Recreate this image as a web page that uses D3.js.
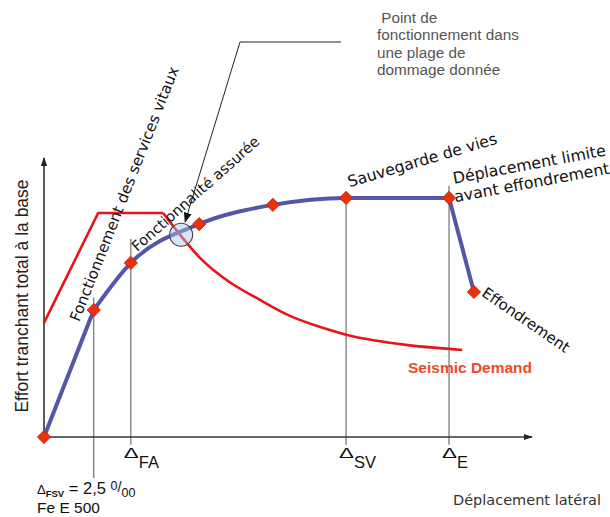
<!DOCTYPE html>
<html>
<head>
<meta charset="utf-8">
<script src="https://cdn.jsdelivr.net/npm/d3@7"></script>
<style>
  html, body { margin: 0; padding: 0; background: #fff; }
  svg { display: block; }
</style>
</head>
<body>
<svg id="chart" width="610" height="517"></svg>
<script>
// ---------- DATA ----------
// Capacity (pushover) curve, arbitrary units (0-100)
const capacityX = [0, 10.2, 17.8, 31.8, 46.9, 61.9, 83.0, 88.1];
const capacityY = [0, 45.5, 62.4, 76.3, 83.2, 85.7, 85.7, 52.0];
// Seismic demand curve (first three points: linear plateau part)
const demandX = [0, 11.1, 24.4, 28.1, 31.8, 37.7, 43.9, 50.4, 56.6, 62.1, 73.0, 85.7];
const demandY = [40.9, 80.3, 80.3, 72.0, 64.5, 55.9, 49.5, 43.4, 39.4, 36.6, 33.3, 31.2];
// Performance-level guide lines
const guideX = [10.2, 17.8, 61.9, 83.0];
const guideTop = [50, 71, 85.7, 90];
const guideBottom = [-14.7, -2.8, -2.8, -2.8];
const guideLabelMain = ["", "Δ", "Δ", "Δ"];
const guideLabelSub = ["", "FA", "SV", "E"];
// Level labels
const levelLabels = ["Fonctionnement des services vitaux", "Fonctionnalité assurée", "Sauvegarde de vies", "Déplacement limite|avant effondrement", "Effondrement"];
const levelLabelPointX = [7.2, 19.1, 62.6, 84.0, 89.5];
const levelLabelPointY = [41, 66.2, 89.5, 90.8, 50.8];
const levelLabelAngle = [-68.5, -41.5, -16.5, -10.5, 34.5];
// Performance point (intersection)
const perfX = [28.1];
const perfY = [72.5];
// Annotation
const noteLines = [" Point de", "fonctionnement dans", "une plage de", "dommage donnée"];
const axisTitleX = "Déplacement latéral";
const axisTitleY = "Effort tranchant total à la base";
const demandLabel = "Seismic Demand";

// ---------- STYLE ----------
const levelFont = [15.1, 14.6, 15.7, 15.8, 15];

// ---------- SETUP ----------
const svg = d3.select("#chart");
const x = d3.scaleLinear().domain([0, 100]).range([44, 532]);
const y = d3.scaleLinear().domain([0, 100]).range([437, 158]);

const defs = svg.append("defs");
defs.append("marker").attr("id", "arrAxis").attr("viewBox", "0 0 10 10")
  .attr("refX", 9).attr("refY", 5).attr("markerWidth", 9).attr("markerHeight", 9)
  .attr("markerUnits", "userSpaceOnUse").attr("orient", "auto")
  .append("path").attr("d", "M0,1.5 L10,5 L0,8.5 Z").attr("fill", "#222");
defs.append("marker").attr("id", "arrNote").attr("viewBox", "0 0 10 10")
  .attr("refX", 9).attr("refY", 5).attr("markerWidth", 10).attr("markerHeight", 10)
  .attr("markerUnits", "userSpaceOnUse").attr("orient", "auto")
  .append("path").attr("d", "M0,1 L10,5 L0,9 Z").attr("fill", "#111");

// ---------- GUIDE LINES ----------
svg.append("g").selectAll("line").data(guideX).join("line")
  .attr("x1", d => x(d)).attr("x2", d => x(d))
  .attr("y1", (d, i) => y(guideTop[i])).attr("y2", (d, i) => y(guideBottom[i]))
  .attr("stroke", "#555").attr("stroke-width", 1);

// ---------- AXES ----------
svg.append("line").attr("x1", x(0)).attr("y1", y(0)).attr("x2", x(0)).attr("y2", y(100))
  .attr("stroke", "#333").attr("stroke-width", 1.6).attr("marker-end", "url(#arrAxis)");
svg.append("line").attr("x1", x(0)).attr("y1", y(0)).attr("x2", x(100)).attr("y2", y(0))
  .attr("stroke", "#333").attr("stroke-width", 1.6).attr("marker-end", "url(#arrAxis)");

// ---------- DEMAND CURVE ----------
const demandPts = demandX.map((d, i) => [d, demandY[i]]);
const lineLin = d3.line().x(d => x(d[0])).y(d => y(d[1])).curve(d3.curveLinear);
const lineSmooth = d3.line().x(d => x(d[0])).y(d => y(d[1])).curve(d3.curveMonotoneX);
svg.append("path").attr("d", lineLin(demandPts.slice(0, 3)))
  .attr("fill", "none").attr("stroke", "#e8131b").attr("stroke-width", 2.6).attr("stroke-linejoin", "miter");
svg.append("path").attr("d", lineSmooth(demandPts.slice(2)))
  .attr("fill", "none").attr("stroke", "#e8131b").attr("stroke-width", 2.6);

// ---------- CAPACITY CURVE ----------
const capPts = capacityX.map((d, i) => [d, capacityY[i]]);
const n = capPts.length;
const capPath = lineLin(capPts.slice(0, 2)) + lineSmooth(capPts.slice(1, n - 1)) + lineLin(capPts.slice(n - 2));
svg.append("path").attr("d", capPath)
  .attr("fill", "none").attr("stroke", "#5656a8").attr("stroke-width", 4).attr("stroke-linejoin", "round");

// performance point circle
svg.append("circle").attr("cx", x(perfX[0])).attr("cy", y(perfY[0])).attr("r", 11.5)
  .attr("fill", "rgba(170,200,230,0.45)").attr("stroke", "#444").attr("stroke-width", 1.2);

// diamonds
svg.append("g").selectAll("path").data(capPts).join("path")
  .attr("d", d3.symbol(d3.symbolSquare, 88)())
  .attr("transform", d => `translate(${x(d[0])},${y(d[1])}) rotate(45)`)
  .attr("fill", "#e8320e").attr("stroke", "#c42008").attr("stroke-width", 0.8);

// ---------- ANNOTATION ----------
svg.append("path").attr("d", `M341,42 L240,42 L${x(perfX[0]) + 4},${y(perfY[0]) - 13}`)
  .attr("fill", "none").attr("stroke", "#222").attr("stroke-width", 1)
  .attr("marker-end", "url(#arrNote)");
const note = svg.append("text").attr("x", 377).attr("y", 23)
  .attr("font-family", "Liberation Sans, Arial, sans-serif").attr("font-size", 15.3).attr("fill", "#555");
noteLines.forEach((t, i) => note.append("tspan").attr("x", 377).attr("y", 23 + i * 17.4)
  .attr("xml:space", "preserve").text(t));

// ---------- LEVEL LABELS ----------
levelLabels.forEach((lab, i) => {
  const g = svg.append("g")
    .attr("transform", `translate(${x(levelLabelPointX[i])},${y(levelLabelPointY[i])}) rotate(${levelLabelAngle[i]})`);
  const t = g.append("text").attr("font-family", "DejaVu Sans, Verdana, sans-serif")
    .attr("font-size", levelFont[i]).attr("fill", "#111");
  lab.split("|").forEach((line, j) => t.append("tspan").attr("x", j === 0 ? 0 : -2).attr("y", j * 18.5).text(line));
});

// ---------- DEMAND LABEL ----------
svg.append("text").attr("x", 408).attr("y", 373)
  .attr("font-family", "Liberation Sans, Arial, sans-serif").attr("font-weight", "bold")
  .attr("font-size", 15.5).attr("fill", "#ee4a2a").text(demandLabel);

// ---------- GUIDE LABELS ----------
guideX.forEach((d, i) => {
  if (!guideLabelMain[i]) return;
  const g = svg.append("g").attr("font-family", "Liberation Sans, Arial, sans-serif").attr("fill", "#111");
  g.append("text").attr("x", x(d) - 7).attr("y", 458).attr("font-size", 15)
    .attr("textLength", 15).attr("lengthAdjust", "spacingAndGlyphs").text(guideLabelMain[i]);
  g.append("text").attr("x", x(d) + 8).attr("y", 468).attr("font-size", 16.5).text(guideLabelSub[i]);
});

// FSV note
const fsv = svg.append("text").attr("x", 37).attr("y", 494)
  .attr("font-family", "Liberation Sans, Arial, sans-serif").attr("font-size", 16.5).attr("fill", "#111");
fsv.append("tspan").attr("font-size", 13).text("Δ");
fsv.append("tspan").attr("font-size", 9.5).attr("font-weight", "bold").attr("dy", 3).text("FSV");
fsv.append("tspan").attr("dy", -3).text(" = 2,5 ");
fsv.append("tspan").attr("font-size", 12.5).attr("dy", -4).text("0");
fsv.append("tspan").attr("font-size", 14.5).attr("dy", 2).text("/");
fsv.append("tspan").attr("font-size", 12.5).attr("dy", 5).text("00");
svg.append("text").attr("x", 37).attr("y", 513)
  .attr("font-family", "Liberation Sans, Arial, sans-serif").attr("font-size", 15.5).attr("fill", "#111")
  .text("Fe E 500");

// ---------- AXIS TITLES ----------
svg.append("text").attr("transform", "translate(28,296) rotate(-90)")
  .attr("text-anchor", "middle").attr("font-family", "Liberation Sans, Arial, sans-serif")
  .attr("font-size", 17.5).attr("fill", "#222").text(axisTitleY);
svg.append("text").attr("x", 453).attr("y", 505)
  .attr("font-family", "DejaVu Sans, Verdana, sans-serif").attr("font-size", 14.5).attr("fill", "#333")
  .text(axisTitleX);
</script>
</body>
</html>
